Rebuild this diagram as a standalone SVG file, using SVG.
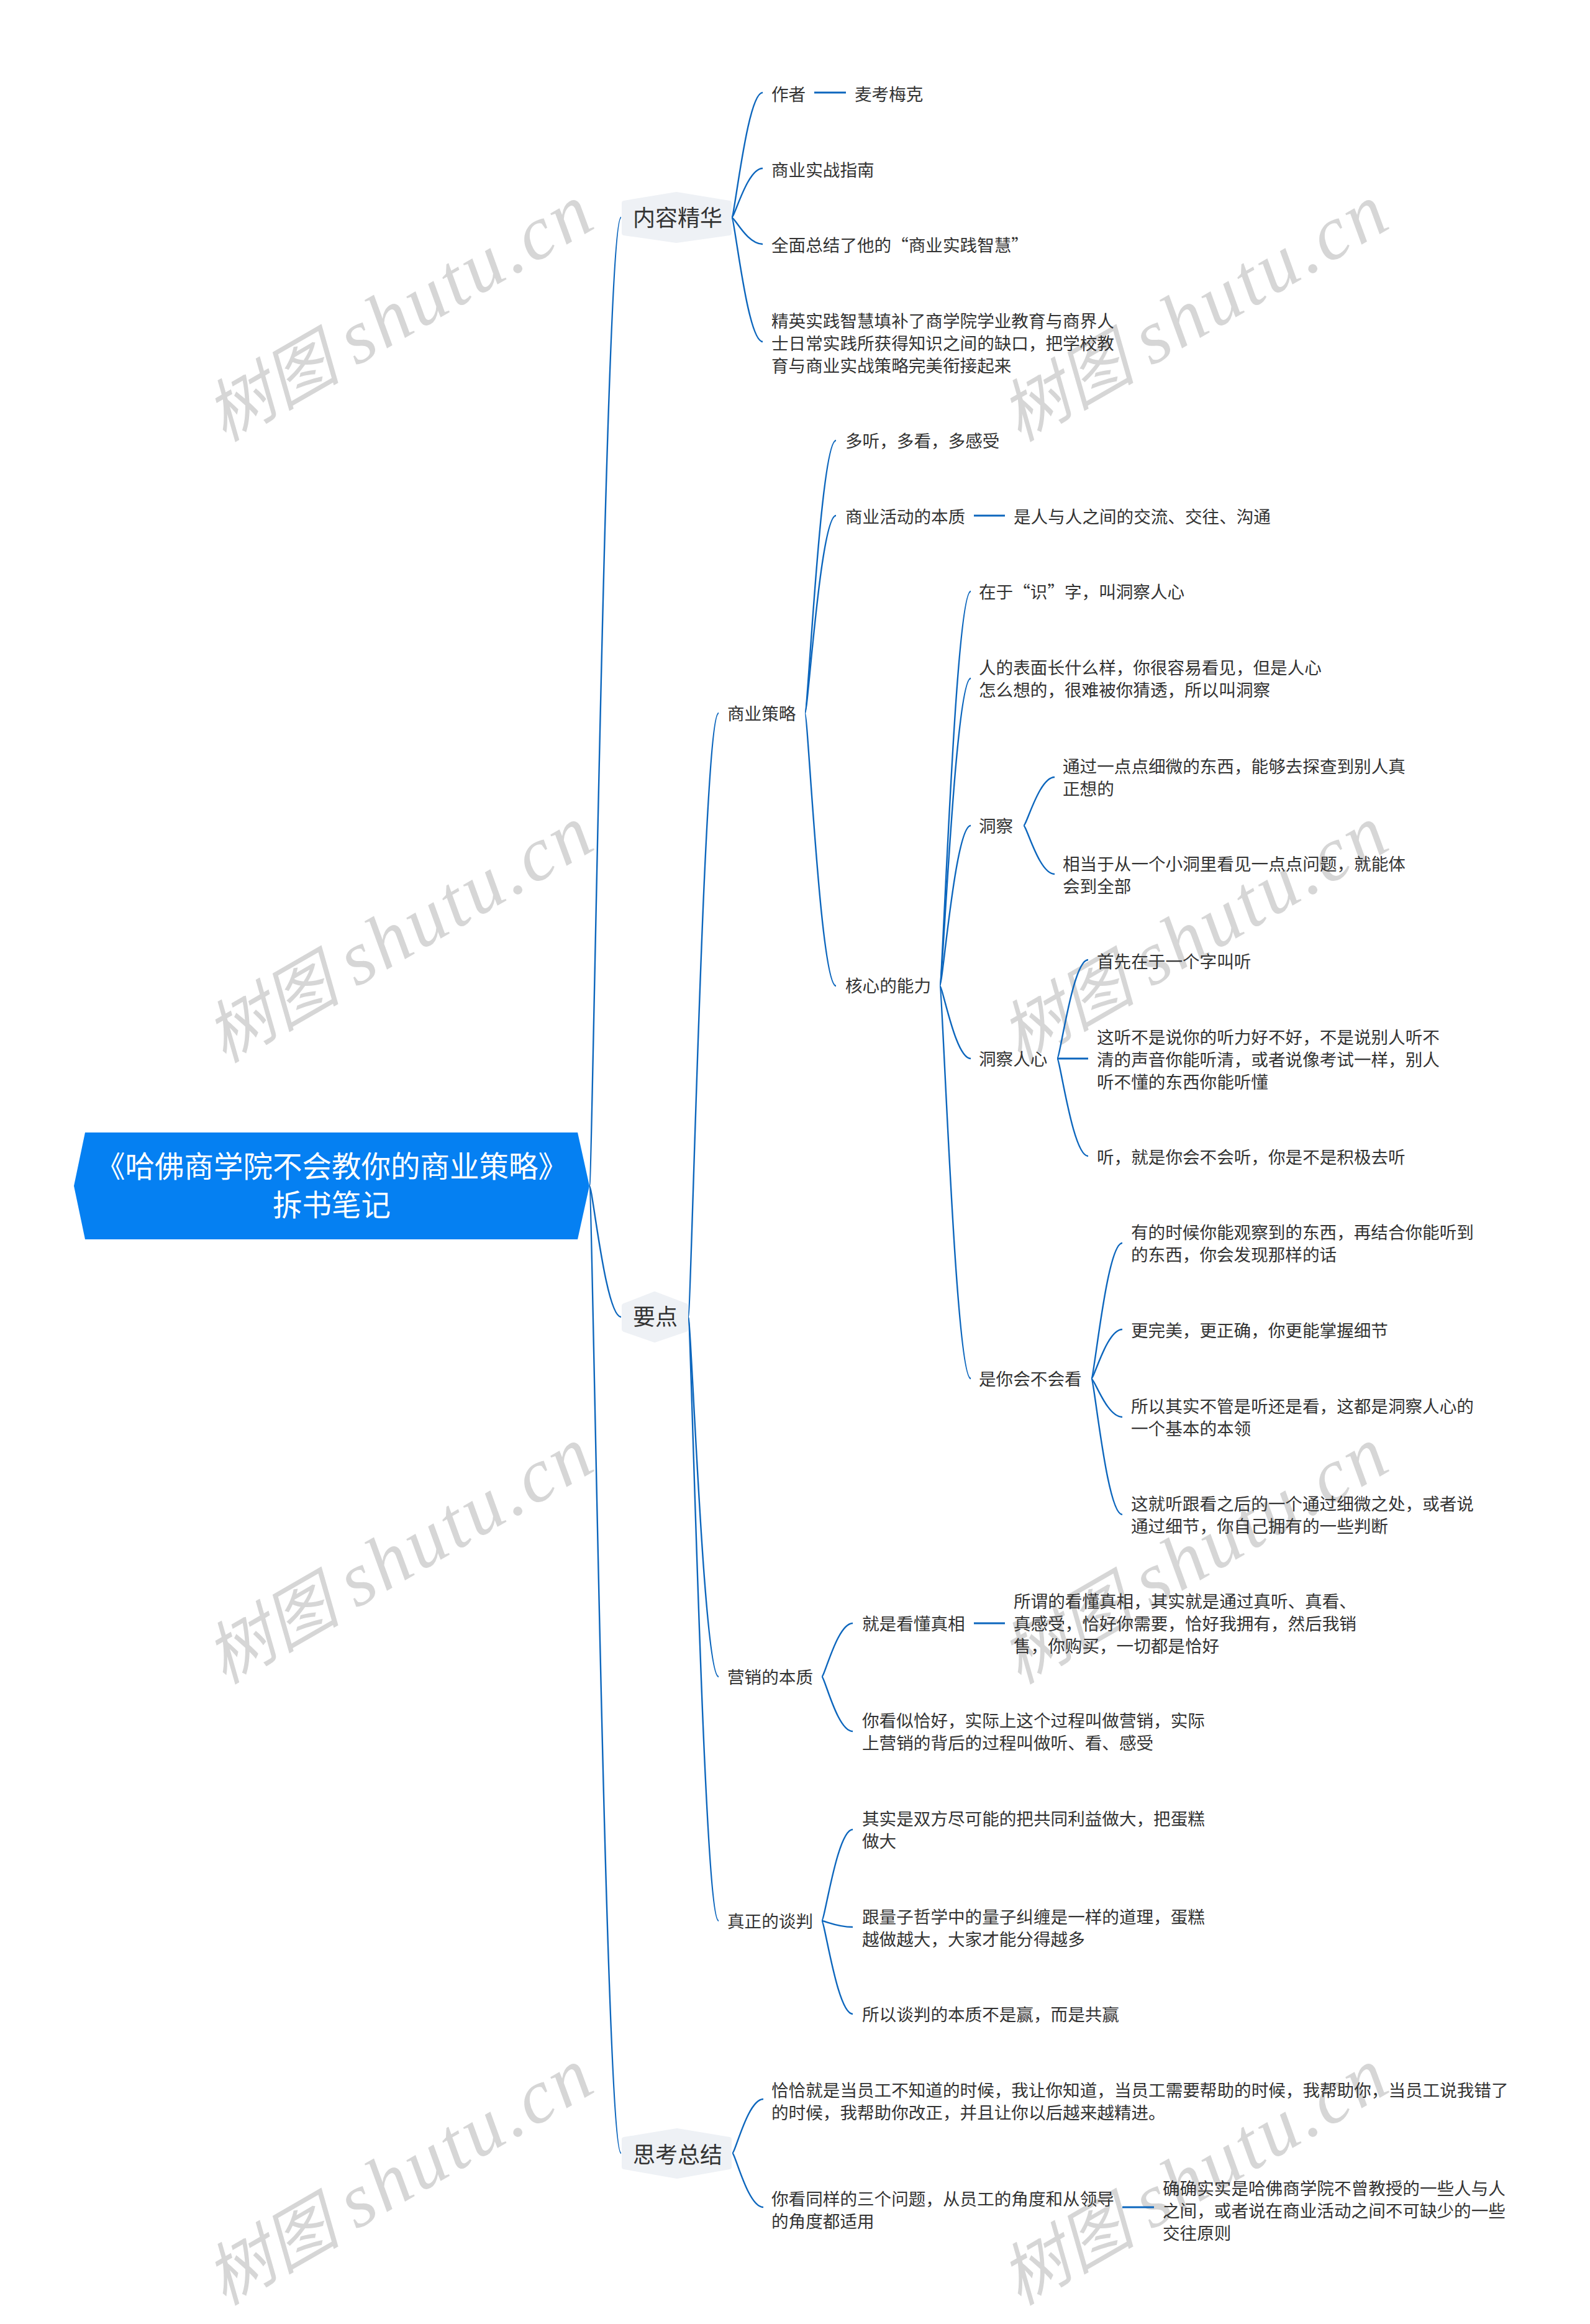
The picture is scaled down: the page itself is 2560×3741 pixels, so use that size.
<svg xmlns="http://www.w3.org/2000/svg" width="2560" height="3741" viewBox="0 0 2560 3741">
<style>
text{font-family:"Noto Sans CJK SC","Liberation Sans",sans-serif;fill:#333;font-size:27.6px}
.m{font-size:36px}
.r{font-size:47.5px;fill:#fff;text-anchor:middle}
.w{font-family:"Liberation Serif","Noto Sans CJK SC",serif;font-style:italic;font-size:109px;fill:#d6d6d6}
.w tspan{font-size:123px;letter-spacing:5px}
.c path{fill:none;stroke:#0c66bd;stroke-width:2.4}
.c path.s{stroke-width:3}
.h{fill:#eef1f5;stroke:#eef1f5;stroke-width:8;stroke-linejoin:round}
</style>
<rect width="2560" height="3741" fill="#fff"/>
<g id="watermarks">
<text class="w" transform="translate(361 712) rotate(-30)">树图 <tspan>shutu.cn</tspan></text>
<text class="w" transform="translate(1641 712) rotate(-30)">树图 <tspan>shutu.cn</tspan></text>
<text class="w" transform="translate(361 1712) rotate(-30)">树图 <tspan>shutu.cn</tspan></text>
<text class="w" transform="translate(1641 1712) rotate(-30)">树图 <tspan>shutu.cn</tspan></text>
<text class="w" transform="translate(361 2712) rotate(-30)">树图 <tspan>shutu.cn</tspan></text>
<text class="w" transform="translate(1641 2712) rotate(-30)">树图 <tspan>shutu.cn</tspan></text>
<text class="w" transform="translate(361 3712) rotate(-30)">树图 <tspan>shutu.cn</tspan></text>
<text class="w" transform="translate(1641 3712) rotate(-30)">树图 <tspan>shutu.cn</tspan></text>
</g>
<g id="connectors" class="c">
<path d="M949 1909C954 1909 975 350 1000 350"/>
<path d="M949 1909C954 1909 975 2120 1000 2120"/>
<path d="M949 1909C954 1909 975 3466 1000 3466"/>
<path d="M1178 350C1183 350 1203 149 1228 149"/>
<path d="M1178 350C1183 350 1203 271 1228 271"/>
<path d="M1178 350C1183 350 1203 393 1228 393"/>
<path d="M1178 350C1183 350 1203 550 1228 550"/>
<path class="s" d="M1311 149H1362"/>
<path d="M1108 2120C1113 2120 1133 1148 1157 1148"/>
<path d="M1108 2120C1113 2120 1133 2699 1157 2699"/>
<path d="M1108 2120C1113 2120 1133 3092 1157 3092"/>
<path d="M1296 1148C1301 1148 1321 709 1346 709"/>
<path d="M1296 1148C1301 1148 1321 830 1346 830"/>
<path d="M1296 1148C1301 1148 1321 1587 1346 1587"/>
<path class="s" d="M1568 830H1618"/>
<path d="M1513 1587C1518 1587 1538 952 1563 952"/>
<path d="M1513 1587C1518 1587 1538 1092 1563 1092"/>
<path d="M1513 1587C1518 1587 1538 1329 1563 1329"/>
<path d="M1513 1587C1518 1587 1538 1704 1563 1704"/>
<path d="M1513 1587C1518 1587 1538 2219 1563 2219"/>
<path d="M1648 1329C1653 1329 1673 1251 1698 1251"/>
<path d="M1648 1329C1653 1329 1673 1407 1698 1407"/>
<path d="M1702 1704C1707 1704 1727 1545 1752 1545"/>
<path class="s" d="M1702 1704H1752"/>
<path d="M1702 1704C1707 1704 1727 1861 1752 1861"/>
<path d="M1757 2219C1762 2219 1782 2001 1807 2001"/>
<path d="M1757 2219C1762 2219 1782 2140 1807 2140"/>
<path d="M1757 2219C1762 2219 1782 2281 1807 2281"/>
<path d="M1757 2219C1762 2219 1782 2438 1807 2438"/>
<path d="M1323 2699C1328 2699 1348 2613 1373 2613"/>
<path d="M1323 2699C1328 2699 1348 2787 1373 2787"/>
<path class="s" d="M1568 2613H1618"/>
<path d="M1323 3092C1328 3092 1348 2945 1373 2945"/>
<path d="M1323 3092C1328 3092 1348 3102 1373 3102"/>
<path d="M1323 3092C1328 3092 1348 3242 1373 3242"/>
<path d="M1179 3466C1184 3466 1204 3379 1229 3379"/>
<path d="M1179 3466C1184 3466 1204 3553 1229 3553"/>
<path class="s" d="M1807 3553H1858"/>
</g>
<g id="root"><polygon points="137,1823 930,1823 949,1909 930,1995 137,1995 119,1909" fill="#0580f2"/>
<text class="r" x="534" y="1895">《哈佛商学院不会教你的商业策略》</text><text class="r" x="534" y="1957">拆书笔记</text></g>
<g id="n1"><polygon class="h" points="1089,313 1174,327 1174,375 1089,387 1005,375 1005,327"/><text class="m" x="1019" y="364">内容精华</text></g>
<g id="n2"><polygon class="h" points="1054,2083 1104,2102 1104,2140 1054,2157 1005,2140 1005,2102"/><text class="m" x="1019" y="2133">要点</text></g>
<g id="n3"><polygon class="h" points="1090,3430 1174,3444 1174,3488 1090,3503 1005,3488 1005,3444"/><text class="m" x="1019" y="3482">思考总结</text></g>
<g id="n1a"><text x="1242" y="162">作者</text></g>
<g id="n1a1"><text x="1376" y="162">麦考梅克</text></g>
<g id="n1b"><text x="1242" y="284">商业实战指南</text></g>
<g id="n1c"><text x="1242" y="405">全面总结了他的“商业实践智慧”</text></g>
<g id="n1d"><text x="1242" y="527">精英实践智慧填补了商学院学业教育与商界人</text><text x="1242" y="563">士日常实践所获得知识之间的缺口，把学校教</text><text x="1242" y="599">育与商业实战策略完美衔接起来</text></g>
<g id="n2a"><text x="1171" y="1159">商业策略</text></g>
<g id="n2a1"><text x="1361" y="720">多听，多看，多感受</text></g>
<g id="n2a2"><text x="1361" y="842">商业活动的本质</text></g>
<g id="n2a2a"><text x="1632" y="842">是人与人之间的交流、交往、沟通</text></g>
<g id="n2a3"><text x="1361" y="1597">核心的能力</text></g>
<g id="n2a3a"><text x="1576" y="963">在于“识”字，叫洞察人心</text></g>
<g id="n2a3b"><text x="1576" y="1085">人的表面长什么样，你很容易看见，但是人心</text><text x="1576" y="1121">怎么想的，很难被你猜透，所以叫洞察</text></g>
<g id="n2a3c"><text x="1576" y="1340">洞察</text></g>
<g id="n2a3c1"><text x="1711" y="1244">通过一点点细微的东西，能够去探查到别人真</text><text x="1711" y="1280">正想的</text></g>
<g id="n2a3c2"><text x="1711" y="1401">相当于从一个小洞里看见一点点问题，就能体</text><text x="1711" y="1437">会到全部</text></g>
<g id="n2a3d"><text x="1576" y="1715">洞察人心</text></g>
<g id="n2a3d1"><text x="1766" y="1558">首先在于一个字叫听</text></g>
<g id="n2a3d2"><text x="1766" y="1680">这听不是说你的听力好不好，不是说别人听不</text><text x="1766" y="1716">清的声音你能听清，或者说像考试一样，别人</text><text x="1766" y="1752">听不懂的东西你能听懂</text></g>
<g id="n2a3d3"><text x="1766" y="1873">听，就是你会不会听，你是不是积极去听</text></g>
<g id="n2a3e"><text x="1576" y="2230">是你会不会看</text></g>
<g id="n2a3e1"><text x="1821" y="1994">有的时候你能观察到的东西，再结合你能听到</text><text x="1821" y="2030">的东西，你会发现那样的话</text></g>
<g id="n2a3e2"><text x="1821" y="2152">更完美，更正确，你更能掌握细节</text></g>
<g id="n2a3e3"><text x="1821" y="2274">所以其实不管是听还是看，这都是洞察人心的</text><text x="1821" y="2310">一个基本的本领</text></g>
<g id="n2a3e4"><text x="1821" y="2431">这就听跟看之后的一个通过细微之处，或者说</text><text x="1821" y="2467">通过细节，你自己拥有的一些判断</text></g>
<g id="n2b"><text x="1171" y="2710">营销的本质</text></g>
<g id="n2b1"><text x="1388" y="2624">就是看懂真相</text></g>
<g id="n2b1a"><text x="1632" y="2588">所谓的看懂真相，其实就是通过真听、真看、</text><text x="1632" y="2624">真感受，恰好你需要，恰好我拥有，然后我销</text><text x="1632" y="2660">售，你购买，一切都是恰好</text></g>
<g id="n2b2"><text x="1388" y="2780">你看似恰好，实际上这个过程叫做营销，实际</text><text x="1388" y="2816">上营销的背后的过程叫做听、看、感受</text></g>
<g id="n2c"><text x="1171" y="3103">真正的谈判</text></g>
<g id="n2c1"><text x="1388" y="2938">其实是双方尽可能的把共同利益做大，把蛋糕</text><text x="1388" y="2974">做大</text></g>
<g id="n2c2"><text x="1388" y="3096">跟量子哲学中的量子纠缠是一样的道理，蛋糕</text><text x="1388" y="3132">越做越大，大家才能分得越多</text></g>
<g id="n2c3"><text x="1388" y="3253">所以谈判的本质不是赢，而是共赢</text></g>
<g id="n3a"><text x="1242" y="3375">恰恰就是当员工不知道的时候，我让你知道，当员工需要帮助的时候，我帮助你，当员工说我错了</text><text x="1242" y="3411">的时候，我帮助你改正，并且让你以后越来越精进。</text></g>
<g id="n3b"><text x="1242" y="3550">你看同样的三个问题，从员工的角度和从领导</text><text x="1242" y="3586">的角度都适用</text></g>
<g id="n3b1"><text x="1872" y="3533">确确实实是哈佛商学院不曾教授的一些人与人</text><text x="1872" y="3569">之间，或者说在商业活动之间不可缺少的一些</text><text x="1872" y="3605">交往原则</text></g>
</svg>
